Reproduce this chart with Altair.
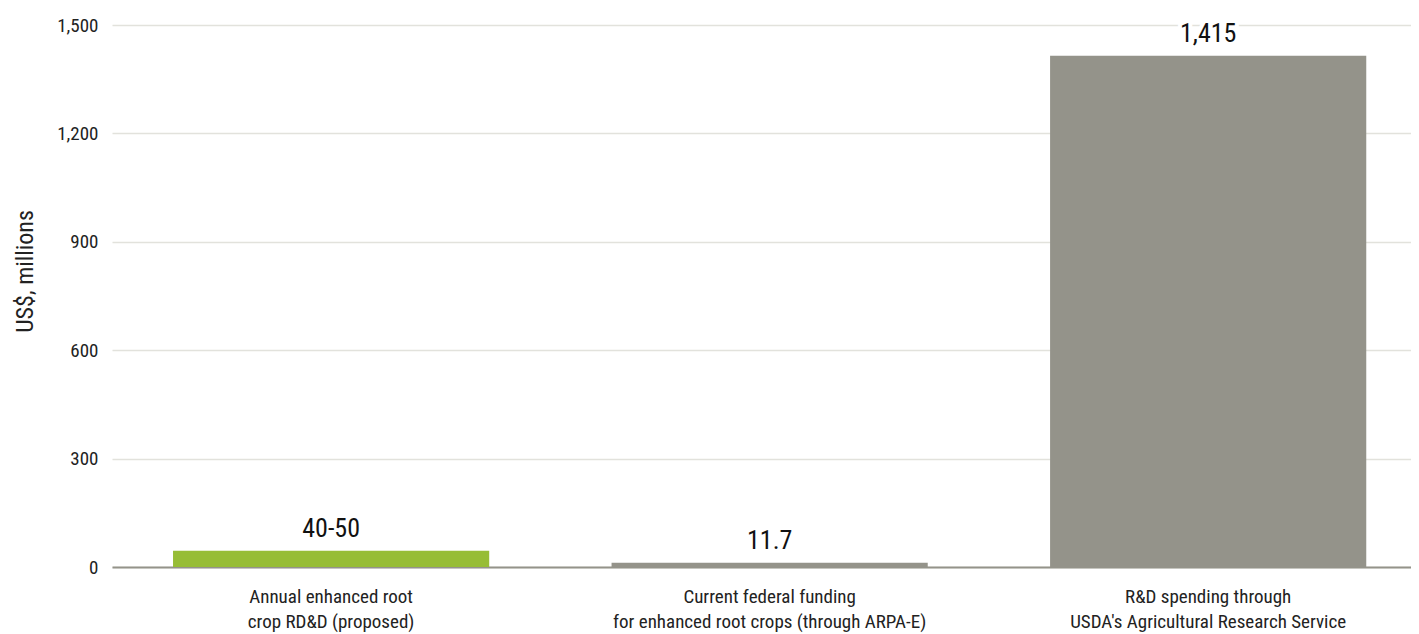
import altair as alt
import pandas as pd

categories = [
    "Annual enhanced root|crop RD&D (proposed)",
    "Current federal funding|for enhanced root crops (through ARPA-E)",
    "R&D spending through|USDA's Agricultural Research Service",
]
values = [45, 11.7, 1415]
value_labels = ["40-50", "11.7", "1,415"]
colors = ["#97bd35", "#94938a", "#94938a"]

df = pd.DataFrame({"cat": categories, "val": values, "lab": value_labels, "col": colors})

FONT = "'Roboto Condensed', 'DejaVu Sans Condensed', 'Liberation Sans Narrow', Roboto, sans-serif"

x = alt.X("cat:N", sort=categories, title=None,
          scale=alt.Scale(paddingInner=0.279, paddingOuter=0.1206, align=0.577),
          axis=alt.Axis(labelExpr="split(datum.label, '|')", labelAngle=0,
                        labelFontSize=19, labelColor="#222222", labelFont=FONT,
                        labelPadding=20, labelLineHeight=25, ticks=False,
                        labelLimit=500,
                        domainColor="#94938a", domainWidth=2, grid=False,
                        labelBaseline="top"))
y = alt.Y("val:Q", title="US$, millions",
          scale=alt.Scale(domain=[0, 1500], nice=False),
          axis=alt.Axis(values=[0, 300, 600, 900, 1200, 1500], format=",.0f",
                        labelFontSize=19, labelColor="#222222", labelFont=FONT,
                        labelPadding=14, ticks=False, domain=False,
                        gridColor="#e2e2dc", gridWidth=1.5,
                        titleFont=FONT, titleFontSize=24, titleFontWeight="normal",
                        titleColor="#222222", titleX=-87, titleY=246,
                        titleAlign="center", titleBaseline="middle", titleAngle=-90))

bars = alt.Chart(df).mark_bar().encode(x=x, y=y, color=alt.Color("col:N", scale=None))
halo = alt.Chart(df).mark_text(baseline="bottom", dy=-9, fontSize=26, font=FONT,
                               stroke="white", strokeWidth=8, fill="white").encode(
    x=alt.X("cat:N", sort=categories), y="val:Q", text="lab:N")
labels = alt.Chart(df).mark_text(baseline="bottom", dy=-9, fontSize=26, font=FONT,
                                 color="#111111").encode(
    x=alt.X("cat:N", sort=categories), y="val:Q", text="lab:N")

chart = alt.layer(bars, halo, labels).properties(
    width=1299, height=542,
    autosize=alt.AutoSizeParams(type="none"),
    padding={"left": 104, "top": 17, "right": 0, "bottom": 66},
).configure_view(stroke=None)

chart.save("out.html", embed_options={"renderer": "svg", "actions": False})
